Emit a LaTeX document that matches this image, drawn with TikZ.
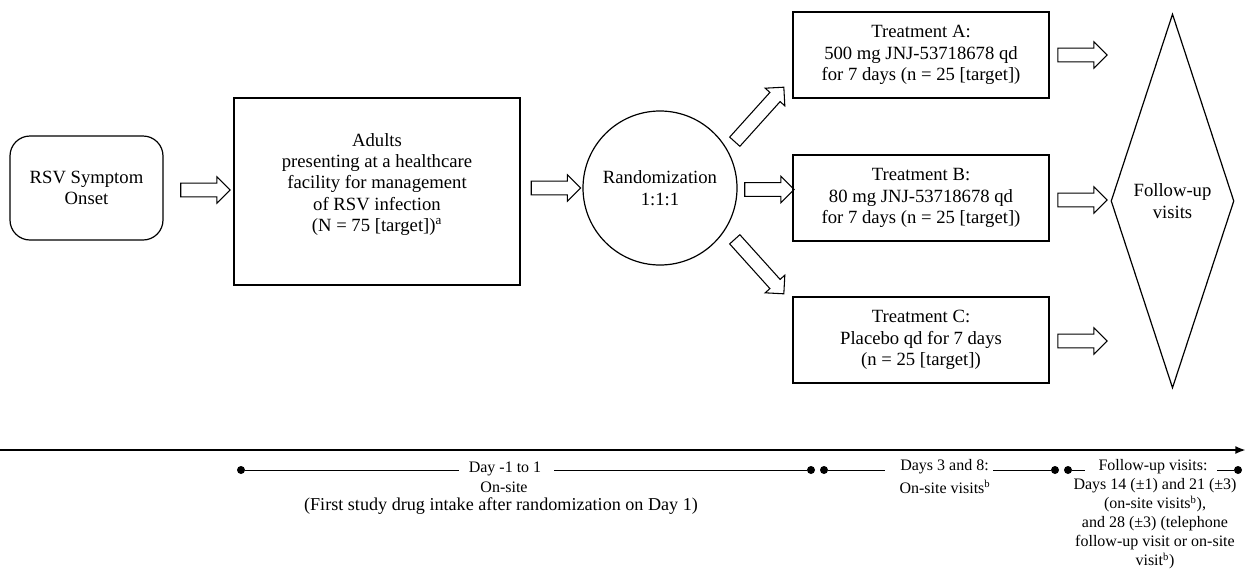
\documentclass[tikz,border=0pt]{standalone}
\usepackage{fontspec}
\setmainfont{Liberation Serif}
\usetikzlibrary{shapes.arrows,shapes.geometric,arrows.meta}
\begin{document}
\begin{tikzpicture}[x=0.75pt,y=-0.75pt,
  every node/.style={font=\fontsize{14}{16}\selectfont},
  box/.style={draw, line width=0.9pt, inner sep=0pt, align=center},
  blockarrow/.style={single arrow, draw, line width=0.8pt, inner xsep=0pt, inner ysep=4.75pt,
    minimum width=19pt, minimum height=37pt, single arrow head extend=4.75pt},
  dot/.style={circle, fill, inner sep=0pt, minimum size=6pt},
  tl/.style={line width=0.6pt},
  tltext/.style={font=\fontsize{12}{14.25}\selectfont, inner sep=0pt, align=center}]
\useasboundingbox (0,0) rectangle (1248,568);

% main boxes
\node[box, rounded corners=15pt, minimum width=114.75pt, minimum height=78pt] (rsv) at (86.5,188) {RSV Symptom\\Onset};
\node[box, minimum width=214.5pt, minimum height=140.25pt] (adults) at (377,191.5) {};
\node[align=center, inner sep=0pt] (adultstxt) at (377,184.5) {Adults\\presenting at a healthcare\\facility for management\\of RSV infection\\(N = 75 [target])\textsuperscript{a}};
\node[box, circle, minimum size=115.5pt] (rand) at (660,188) {Randomization\\1:1:1};
\node[box, minimum width=192pt, minimum height=64.5pt] (ta) at (921,55) {Treatment A:\\500 mg JNJ-53718678 qd\\for 7 days (n = 25 [target])};
\node[box, minimum width=192pt, minimum height=64.5pt] (tb) at (921,198) {Treatment B:\\80 mg JNJ-53718678 qd\\for 7 days (n = 25 [target])};
\node[box, minimum width=192pt, minimum height=64.5pt] (tc) at (921,340) {Treatment C:\\Placebo qd for 7 days\\(n = 25 [target])};
\node[box, diamond, minimum width=92.25pt, minimum height=280.5pt] (fu) at (1172.5,201) {Follow-up\\visits};

% block arrows
\node[blockarrow] (a1) at (202,190) {};
\node[blockarrow] (a2) at (552.5,188) {};
\node[blockarrow] (a3) at (766,189.5) {};
\node[blockarrow, rotate=48, minimum height=55pt] (a4) at (757,117) {};
\node[blockarrow, rotate=-48, minimum height=55pt] (a5) at (757,264) {};
\node[blockarrow] (a6) at (1079,55) {};
\node[blockarrow] (a7) at (1079,200) {};
\node[blockarrow] (a8) at (1079,341) {};

% timeline
\coordinate (tls) at (0,450);
\coordinate (tle) at (1246,450);
\draw[line width=1.8pt, -{Latex[length=8pt,width=6pt]}] (tls) -- (tle);

\node[dot] (d1) at (241,470) {};
\node[dot] (d2) at (811,470) {};
\node[dot] (d3) at (824,470) {};
\node[dot] (d4) at (1055,470) {};
\node[dot] (d5) at (1068,470) {};
\node[dot] (d6) at (1238,470) {};

\node[tltext] (t1) at (505,469) {Day -1 to 1};
\node[tltext] (t1on) at (504,487) {On-site};
\node[tltext, font=\fontsize{13.6}{14.25}\selectfont] (t1b) at (501,506) {(First study drug intake after randomization on Day 1)};
\coordinate (g1) at (459,470);
\coordinate (g2) at (554,470);
\draw[tl] (d1) -- (g1);
\draw[tl] (g2) -- (d2);

\node[tltext] (t2) at (944.5,467) {Days 3 and 8:};
\node[tltext] (t2b) at (945,487) {On-site visits\textsuperscript{b}};
\coordinate (g3) at (885,470);
\coordinate (g4) at (993,470);
\draw[tl] (d3) -- (g3);
\draw[tl] (g4) -- (d4);

\node[tltext] (t3) at (1153,467) {Follow-up visits:};
\node[tltext] (t3b) at (1155,524) {Days 14 (±1) and 21 (±3)\\(on-site visits\textsuperscript{b}),\\and 28 (±3) (telephone\\follow-up visit or on-site\\visit\textsuperscript{b})};
\coordinate (g5) at (1085,470);
\coordinate (g6) at (1217,470);
\draw[tl] (d5) -- (g5);
\draw[tl] (g6) -- (d6);
\end{tikzpicture}
\end{document}
